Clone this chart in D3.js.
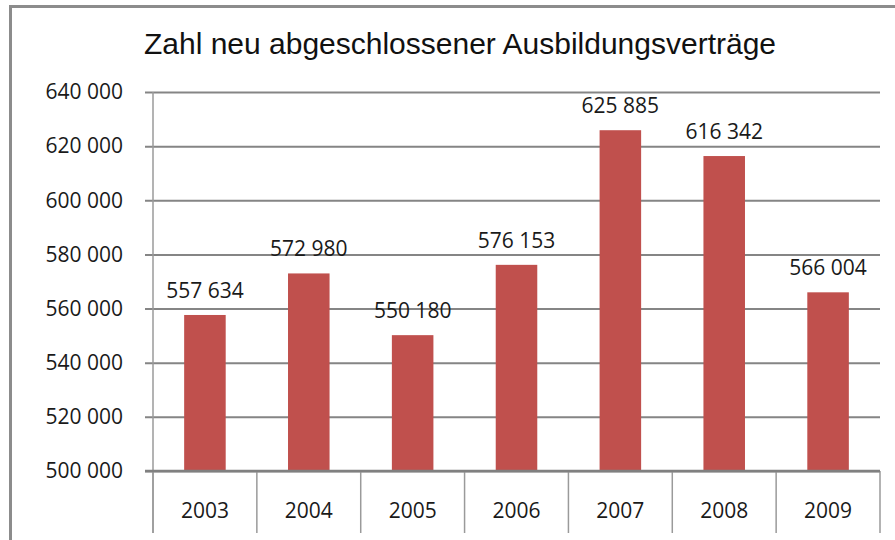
<!DOCTYPE html>
<html>
<head>
<meta charset="utf-8">
<script src="https://d3js.org/d3.v7.min.js"></script>
<style>
  body { margin: 0; background: #fff; }
  svg { display: block; }
</style>
</head>
<body>
<div id="chart"></div>
<script>
// data
var title = "Zahl neu abgeschlossener Ausbildungsverträge";
var years = ["2003", "2004", "2005", "2006", "2007", "2008", "2009"];
var contracts = [557634, 572980, 550180, 576153, 625885, 616342, 566004];
var yTicks = [500000, 520000, 540000, 560000, 580000, 600000, 620000, 640000];

var chartW = 895, chartH = 540;
var plotLeft = 153, plotRight = 880, plotTop = 92, plotBottom = 471, catBottom = 533;

var svg = d3.select('#chart')
  .append('svg')
  .attr('width', chartW)
  .attr('height', chartH);

// outer frame (only left and top visible)
svg.append('path')
  .attr('d', 'M10.5,' + chartH + 'V6.5H' + chartW)
  .attr('fill', 'none')
  .attr('stroke', '#8c8c8c')
  .attr('stroke-width', 3);

// number format with space as thousand separator
var fmt = function(v) { return d3.format(',')(v).replace(/,/g, ' '); };

// scales
var x = d3.scaleBand()
  .domain(years)
  .range([plotLeft, plotRight])
  .paddingInner(0.6)
  .paddingOuter(0.3);

var xCat = d3.scaleBand()
  .domain(years)
  .range([plotLeft, plotRight]);

var y = d3.scaleLinear()
  .domain([500000, 640000])
  .range([plotBottom, plotTop]);

// title
svg.append('text')
  .attr('x', 460)
  .attr('y', 54)
  .attr('text-anchor', 'middle')
  .attr('font-family', 'Liberation Sans, Arial, sans-serif')
  .attr('font-size', 30)
  .attr('fill', '#111')
  .text(title);

// gridlines + y labels
var yAxis = d3.axisLeft(y)
  .tickValues(yTicks)
  .tickSize(-(plotRight - plotLeft))
  .tickSizeOuter(0)
  .tickPadding(30)
  .tickFormat(fmt);

var gy = svg.append('g')
  .attr('transform', 'translate(' + plotLeft + ',0)')
  .call(yAxis);

gy.select('.domain').remove();
gy.selectAll('.tick line')
  .attr('x1', -8)
  .attr('stroke', '#858585')
  .attr('stroke-width', 2);
gy.selectAll('.tick text')
  .attr('font-family', 'Open Sans, sans-serif')
  .attr('font-size', 21)
  .attr('fill', '#1a1a1a');

// vertical axis line
svg.append('line')
  .attr('x1', plotLeft).attr('x2', plotLeft)
  .attr('y1', plotTop).attr('y2', catBottom)
  .attr('stroke', '#9a9a9a')
  .attr('stroke-width', 1.5);

// bars
svg.selectAll('rect.bar')
  .data(contracts)
  .enter()
  .append('rect')
  .attr('class', 'bar')
  .attr('x', function(d, i) { return x(years[i]); })
  .attr('y', function(d) { return y(d); })
  .attr('width', x.bandwidth())
  .attr('height', function(d) { return y(500000) - y(d); })
  .attr('fill', '#c0504d');

// value labels
svg.selectAll('text.val')
  .data(contracts)
  .enter()
  .append('text')
  .attr('class', 'val')
  .attr('x', function(d, i) { return x(years[i]) + x.bandwidth() / 2; })
  .attr('y', function(d) { return y(d) - 17; })
  .attr('text-anchor', 'middle')
  .attr('font-family', 'Open Sans, sans-serif')
  .attr('font-size', 21)
  .attr('fill', '#1a1a1a')
  .text(fmt);

// category dividers
svg.selectAll('line.div')
  .data(years.concat(['end']))
  .enter()
  .append('line')
  .attr('class', 'div')
  .attr('x1', function(d, i) { return i < years.length ? xCat(d) : plotRight; })
  .attr('x2', function(d, i) { return i < years.length ? xCat(d) : plotRight; })
  .attr('y1', plotBottom)
  .attr('y2', catBottom)
  .attr('stroke', '#9a9a9a')
  .attr('stroke-width', 1.5);

// x axis baseline
svg.append('line')
  .attr('x1', plotLeft - 8).attr('x2', plotRight)
  .attr('y1', plotBottom).attr('y2', plotBottom)
  .attr('stroke', '#808080')
  .attr('stroke-width', 2.5);

// x labels
svg.selectAll('text.cat')
  .data(years)
  .enter()
  .append('text')
  .attr('class', 'cat')
  .attr('x', function(d) { return xCat(d) + xCat.bandwidth() / 2; })
  .attr('y', 518)
  .attr('text-anchor', 'middle')
  .attr('font-family', 'Open Sans, sans-serif')
  .attr('font-size', 21)
  .attr('fill', '#1a1a1a')
  .text(function(d) { return d; });
</script>
</body>
</html>
